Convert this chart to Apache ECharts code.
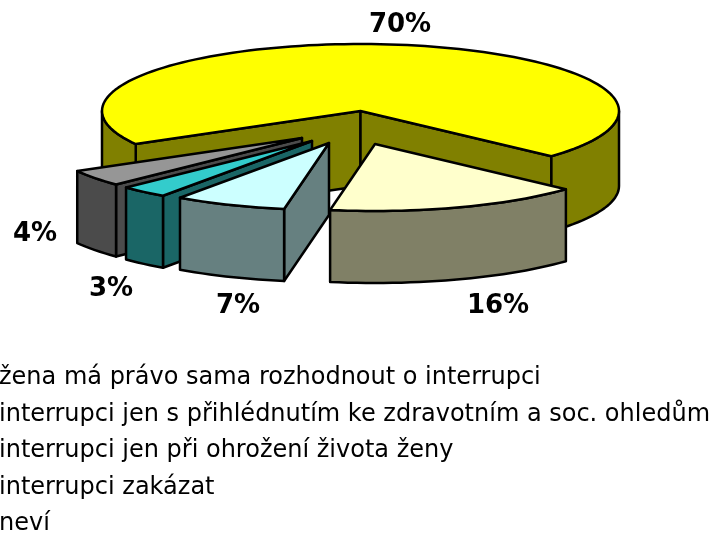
<!DOCTYPE html>
<html>
<head>
<meta charset="utf-8">
<style>
  html, body { margin: 0; padding: 0; background: #fff; overflow: hidden; }
  #chart { width: 716px; height: 533px; }
</style>
<script src="https://cdn.jsdelivr.net/npm/echarts@6/dist/echarts.min.js"></script>
</head>
<body>
<div id="chart"></div>
<script>
// data
const categories = [
  "žena má právo sama rozhodnout o interrupci",
  "interrupci jen s přihlédnutím ke zdravotním a soc. ohledům",
  "interrupci jen při ohrožení života ženy",
  "interrupci zakázat",
  "neví",
];
const shares = [70, 16, 7, 3, 4];

// looks
const topColors = ["#ffff00", "#ffffcc", "#ccffff", "#33cccc", "#969696"];
const sideColors = ["#808000", "#808066", "#668080", "#1a6666", "#4b4b4b"];
const paintOrder = [1, 5, 4, 3, 2];

// pie layout: ellipse radii, wedge height, tip of each pulled out wedge
const radiusX = 258.5;
const radiusY = 67;
const startAngle = 240.4;
const tips = [[360.5, 111], [375, 144], [329, 143], [312, 141], [302, 138]];
const depths = [75, 72, 72, 72, 72];
const labelSpots = [[400, 25], [498, 306], [238, 306], [111, 289], [35, 234]];

const total = shares.reduce((a, b) => a + b, 0);

function sliceAngles(index) {
  let from = startAngle;
  for (let i = 0; i < index; i++) from += (shares[i] / total) * 360;
  return [from, from + (shares[index] / total) * 360];
}

// angle is clockwise from 12 o'clock
function rimPoint(tip, angle, drop) {
  const r = (angle * Math.PI) / 180;
  return [tip[0] + radiusX * Math.sin(r), tip[1] - radiusY * Math.cos(r) + drop];
}

function rimPoints(tip, from, to, drop) {
  const steps = Math.max(2, Math.ceil(Math.abs(to - from) / 2));
  const pts = [];
  for (let i = 0; i <= steps; i++) {
    pts.push(rimPoint(tip, from + ((to - from) * i) / steps, drop));
  }
  return pts;
}

function face(points, fill) {
  return {
    type: "polygon",
    shape: { points: points },
    style: { fill: fill, stroke: "#000", lineWidth: 2.5, lineJoin: "round" },
  };
}

function radialWall(tip, angle, depth, fill) {
  const rim = rimPoint(tip, angle, 0);
  return face([tip, rim, [rim[0], rim[1] + depth], [tip[0], tip[1] + depth]], fill);
}

function outerWall(tip, from, to, depth, fill) {
  const top = rimPoints(tip, from, to, 0);
  const bottom = rimPoints(tip, from, to, depth).reverse();
  return face(top.concat(bottom), fill);
}

function renderSlice(index) {
  const [from, to] = sliceAngles(index);
  const tip = tips[index];
  const depth = depths[index];
  const side = sideColors[index];
  const children = [];

  // cut faces only show when they turn towards the viewer
  if (Math.sin((from * Math.PI) / 180) < 0) children.push(radialWall(tip, from, depth, side));
  if (Math.sin((to * Math.PI) / 180) > 0) children.push(radialWall(tip, to, depth, side));

  // the front of the rim lies between 90 and 270 degrees (also +360)
  [[90, 270], [450, 630]].forEach(([a, b]) => {
    const lo = Math.max(from, a);
    const hi = Math.min(to, b);
    if (hi > lo) children.push(outerWall(tip, lo, hi, depth, side));
  });

  children.push(face([tip].concat(rimPoints(tip, from, to, 0)), topColors[index]));

  children.push({
    type: "text",
    x: labelSpots[index][0],
    y: labelSpots[index][1],
    style: {
      text: shares[index] + "%",
      fill: "#000",
      font: 'bold 26px "DejaVu Sans"',
      align: "center",
      verticalAlign: "middle",
    },
  });

  return { type: "group", children: children };
}

const chart = echarts.init(document.getElementById("chart"), null, { renderer: "canvas" });

chart.setOption({
  animation: false,
  backgroundColor: "#fff",
  legend: {
    orient: "vertical",
    left: -20,
    top: 366,
    height: 300,
    itemWidth: 14,
    itemHeight: 14,
    itemGap: 12.5,
    padding: 0,
    data: categories,
    textStyle: { color: "#000", fontFamily: "DejaVu Sans", fontSize: 24 },
  },
  series: categories.map((name, i) => ({
    type: "custom",
    name: name,
    coordinateSystem: "none",
    z: paintOrder[i],
    silent: true,
    itemStyle: { color: topColors[i] },
    data: [shares[i]],
    renderItem: () => renderSlice(i),
  })),
});
</script>
</body>
</html>
